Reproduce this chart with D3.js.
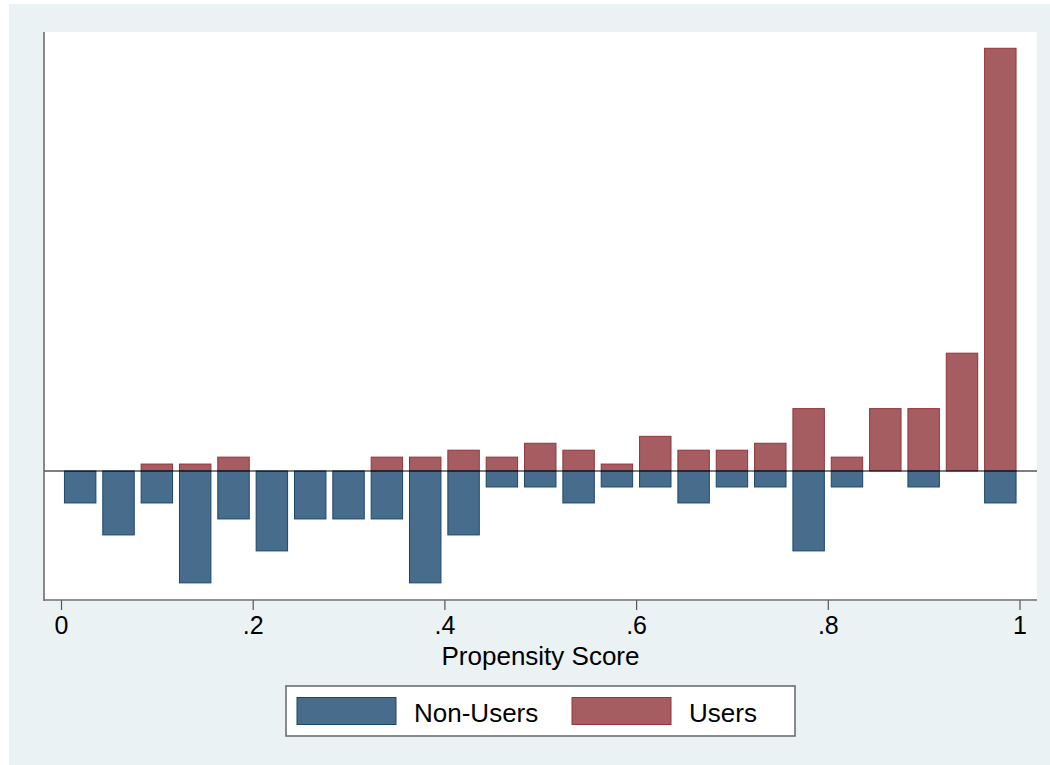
<!DOCTYPE html>
<html lang="en">
  <head>
    <meta charset="UTF-8" />
    <title>Propensity Score</title>
    <style>
      body { margin: 0; background: #fff; }
      svg text { font-family: "Liberation Sans", Arial, sans-serif; }
    </style>
    <script src="https://d3js.org/d3.v7.min.js"></script>
  </head>
  <body>
    <svg width="1050" height="765"></svg>
    <script>
      // bin centres (width .04) and counts per bin
      var binCenters = [0.02, 0.06, 0.10, 0.14, 0.18, 0.22, 0.26, 0.30, 0.34, 0.38, 0.42, 0.46,
        0.50, 0.54, 0.58, 0.62, 0.66, 0.70, 0.74, 0.78, 0.82, 0.86, 0.90, 0.94, 0.98];
      var nonUsers = [2, 4, 2, 7, 3, 5, 3, 3, 3, 7, 4, 1, 1, 2, 1, 1, 2, 1, 1, 5, 1, 0, 1, 0, 2];
      var users = [0, 0, 1, 1, 2, 0, 0, 0, 2, 2, 3, 2, 4, 3, 1, 5, 3, 3, 4, 9, 2, 9, 9, 17, 61];
      var xTicks = [0, 0.2, 0.4, 0.6, 0.8, 1];
      var xTickLabels = ["0", ".2", ".4", ".6", ".8", "1"];
      var seriesNames = ["Non-Users", "Users"];

      window.onload = function () {
        var svg = d3.select("svg");
        var width = +svg.attr("width");
        var height = +svg.attr("height");

        var plot = { left: 44, right: 1037, top: 32, bottom: 601 };
        var barW = 0.0328;

        var nonTotal = d3.sum(nonUsers);
        var userTotal = d3.sum(users);

        var xScale = d3.scaleLinear().domain([0, 1]).range([61, 1019.5]);
        // share of each group, users up and non-users down
        var yScale = d3.scaleLinear().domain([-0.1312, 0.443]).range([plot.bottom, plot.top]);

        svg.append("rect").attr("x", 9).attr("y", 4)
          .attr("width", width - 9).attr("height", height - 4)
          .attr("fill", "#eaf2f3");

        svg.append("rect")
          .attr("x", plot.left).attr("y", plot.top)
          .attr("width", plot.right - plot.left).attr("height", plot.bottom - plot.top)
          .attr("fill", "#fff");

        var rows = binCenters.map(function (c, i) {
          return { c: c, non: nonUsers[i] / nonTotal, user: users[i] / userTotal };
        });

        svg.append("g")
          .selectAll("rect")
          .data(rows.filter((d) => d.user > 0))
          .join("rect")
          .attr("x", (d) => xScale(d.c - barW / 2))
          .attr("width", (d) => xScale(d.c + barW / 2) - xScale(d.c - barW / 2))
          .attr("y", (d) => yScale(d.user))
          .attr("height", (d) => yScale(0) - yScale(d.user))
          .attr("fill", "#a65d62")
          .attr("stroke", "#90353b")
          .attr("stroke-width", 1);

        svg.append("g")
          .selectAll("rect")
          .data(rows.filter((d) => d.non > 0))
          .join("rect")
          .attr("x", (d) => xScale(d.c - barW / 2))
          .attr("width", (d) => xScale(d.c + barW / 2) - xScale(d.c - barW / 2))
          .attr("y", yScale(0))
          .attr("height", (d) => yScale(-d.non) - yScale(0))
          .attr("fill", "#486c8c")
          .attr("stroke", "#1a476f")
          .attr("stroke-width", 1);

        // zero line
        svg.append("line")
          .attr("x1", plot.left).attr("x2", plot.right)
          .attr("y1", yScale(0)).attr("y2", yScale(0))
          .attr("stroke", "#000").attr("stroke-width", 1.2);

        // left axis, no labels
        svg.append("line")
          .attr("x1", plot.left).attr("x2", plot.left)
          .attr("y1", plot.top).attr("y2", plot.bottom)
          .attr("stroke", "#6e6e6e").attr("stroke-width", 1.6);

        var xAxis = d3.axisBottom(xScale)
          .tickValues(xTicks)
          .tickFormat((d, i) => xTickLabels[i])
          .tickSize(10)
          .tickPadding(6)
          .tickSizeOuter(0);

        var gx = svg.append("g")
          .attr("transform", "translate(0," + (plot.bottom - 1) + ")")
          .call(xAxis);
        gx.select(".domain").remove();
        gx.append("line")
          .attr("x1", plot.left).attr("x2", plot.right)
          .attr("stroke", "#6e6e6e").attr("stroke-width", 1.6);
        gx.selectAll(".tick line").attr("stroke", "#555").attr("stroke-width", 1.2);
        gx.selectAll(".tick text")
          .attr("font-size", 25)
          .attr("font-family", "Liberation Sans, Arial, sans-serif")
          .attr("fill", "#000");

        svg.append("text")
          .attr("x", (plot.left + plot.right) / 2)
          .attr("y", 665)
          .attr("text-anchor", "middle")
          .attr("font-size", 26)
          .text("Propensity Score");

        // legend
        var legend = svg.append("g");
        legend.append("rect")
          .attr("x", 286).attr("y", 686).attr("width", 509).attr("height", 50)
          .attr("fill", "#fff").attr("stroke", "#6e6e6e").attr("stroke-width", 1.6);

        var keys = [
          { name: seriesNames[0], fill: "#486c8c", stroke: "#1a476f", x: 297 },
          { name: seriesNames[1], fill: "#a65d62", stroke: "#90353b", x: 572 },
        ];
        legend.selectAll("rect.key")
          .data(keys)
          .join("rect")
          .attr("class", "key")
          .attr("x", (d) => d.x).attr("y", 697.5)
          .attr("width", 99).attr("height", 27)
          .attr("fill", (d) => d.fill).attr("stroke", (d) => d.stroke);
        legend.selectAll("text")
          .data(keys)
          .join("text")
          .attr("x", (d) => d.x + 117).attr("y", 721.5)
          .attr("font-size", 26)
          .text((d) => d.name);
      };
    </script>
  </body>
</html>
